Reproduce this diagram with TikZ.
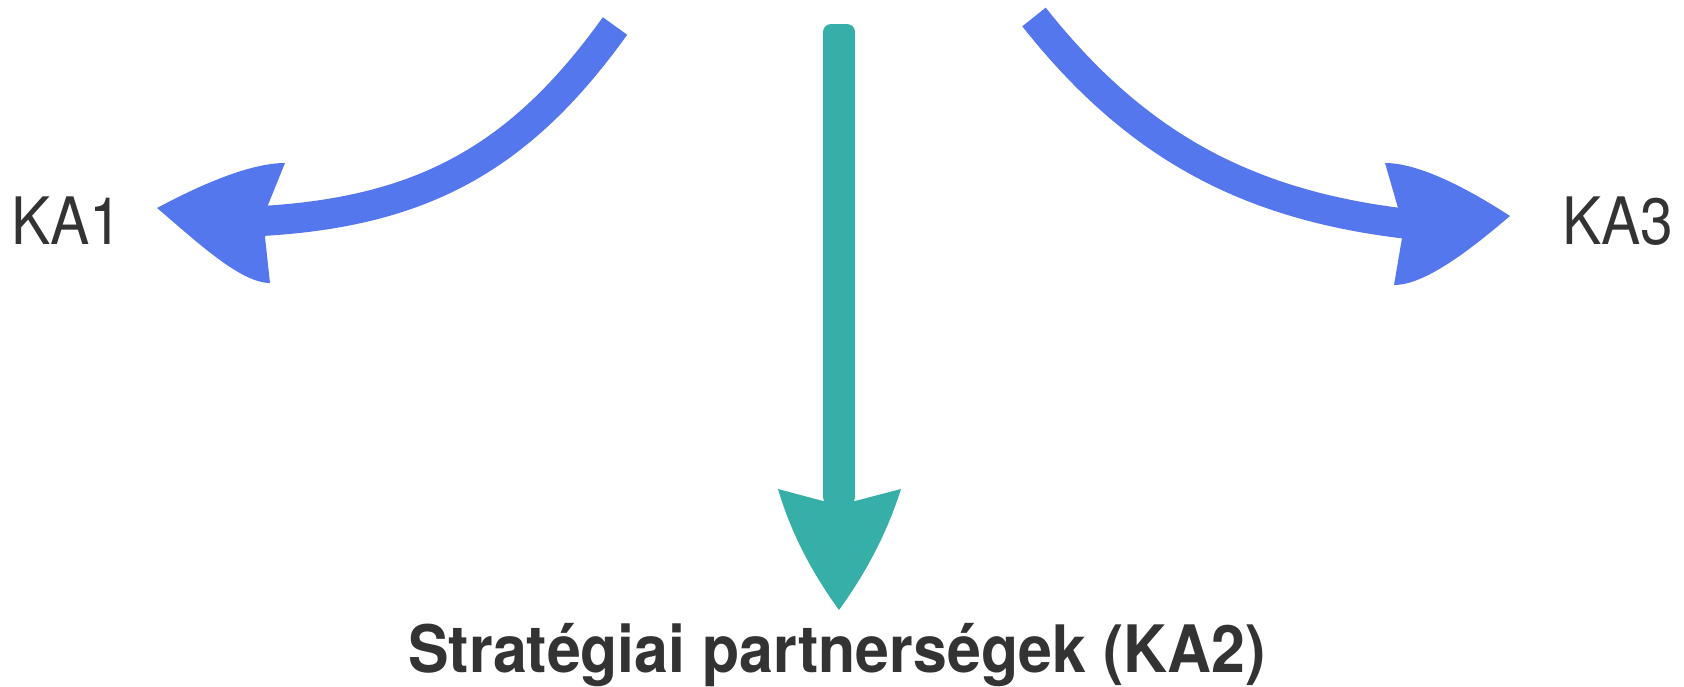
\documentclass[tikz,border=0pt]{standalone}
\usepackage{fontspec}
\setmainfont{TeX Gyre Heros}[FakeStretch=0.9]
\newfontfamily\titlefont{TeX Gyre Heros}[FakeStretch=0.93]
\usepackage{tikz}
\definecolor{sideblue}{HTML}{5577ED}
\definecolor{midteal}{HTML}{36AFA9}
\definecolor{labelgrey}{HTML}{333333}
\tikzset{
  side shaft/.style={draw=sideblue,line width=15pt,line cap=butt},
  side label/.style={text=labelgrey,inner sep=0pt,font=\fontsize{32.7}{40}\selectfont},
  main label/.style={text=labelgrey,inner sep=0pt,font=\titlefont\fontsize{32.7}{40}\selectfont\bfseries},
}

\begin{document}
\begin{tikzpicture}[x=0.5pt,y=-0.5pt]
\useasboundingbox (0,0) rectangle (1684,686);
% labels
\node[side label,anchor=base west] (ka1) at (11,244) {KA1};
\node[side label,anchor=base west] (ka3) at (1562,244) {KA3};
\node[main label,anchor=base] (ka2) at (837,672) {Stratégiai partnerségek (KA2)};
% free ends of the arrows
\coordinate (lstart) at (615,26);
\coordinate (lend) at (262,221);
\coordinate (rstart) at (1034,17);
\coordinate (rend) at (1404,223.5);
% left arrow
\draw[side shaft] (lstart) .. controls (521,157) and (424,211.6) .. (lend);
\fill[sideblue] (268,205) -- (285,163) .. controls (250,163) and (200,185) .. (157,208)
  .. controls (195,240) and (240,283) .. (270,283) -- (265,237) -- cycle;
% right arrow
\draw[side shaft] (rstart) .. controls (1133,142) and (1242,204) .. (rend);
\fill[sideblue] (1398,208) -- (1385,163) .. controls (1420,163) and (1470,190) .. (1510,216)
  .. controls (1470,250) and (1425,285) .. (1394,285) -- (1402,238) -- cycle;
% middle arrow
\fill[midteal,rounded corners=4] (823,24) rectangle (855,505);
\fill[midteal] (823,501) -- (778,489) .. controls (790,530) and (810,570) .. (839,610)
  .. controls (868,570) and (888,530) .. (901,489) -- (855,501) -- cycle;
\end{tikzpicture}
\end{document}
